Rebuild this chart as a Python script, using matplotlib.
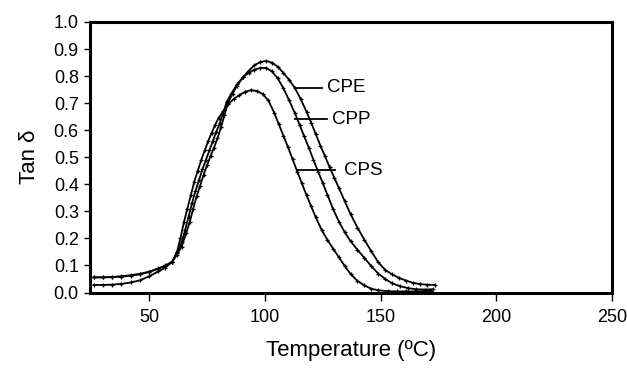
import matplotlib
matplotlib.use("Agg")
import matplotlib.pyplot as plt

plt.rcParams['font.family'] = ['Liberation Sans', 'DejaVu Sans']

# Data (Temperature in degC, tan delta).

t_cps = [26, 30, 34, 38, 42, 46, 50, 54, 57, 60, 62, 63.5, 65, 66.5, 68, 69.5,
         71, 72.5, 74, 75.5, 77, 78.5, 80, 82, 84, 86.5, 89, 91.5, 94, 96.5,
         99, 101.5, 104, 106, 108, 110, 112, 114, 116, 118, 120, 122, 124.5,
         127, 129.5, 132, 134.5, 137, 140, 143, 146, 149, 153, 157, 161, 165,
         169, 172]
tan_cps = [0.056, 0.056, 0.057, 0.059, 0.062, 0.067, 0.076, 0.088, 0.099,
           0.114, 0.150, 0.200, 0.260, 0.310, 0.360, 0.410, 0.450, 0.490,
           0.525, 0.560, 0.590, 0.620, 0.645, 0.670, 0.695, 0.715, 0.730,
           0.742, 0.748, 0.745, 0.734, 0.710, 0.665, 0.622, 0.580, 0.537,
           0.492, 0.447, 0.403, 0.360, 0.318, 0.278, 0.232, 0.195, 0.162,
           0.130, 0.098, 0.069, 0.043, 0.026, 0.014, 0.008, 0.005, 0.004,
           0.004, 0.004, 0.005, 0.006]

t_cpp = [26, 30, 34, 38, 42, 46, 50, 54, 57, 60, 62, 64, 65.5, 67, 68.5, 70,
         71.5, 73, 74.5, 76, 77.5, 79, 80.5, 82, 83.5, 85.5, 88, 90.5, 93,
         95.5, 98, 100.5, 103, 105.5, 108, 110.5, 113, 115, 117, 119, 121,
         123, 125, 127, 129.5, 132, 134.5, 137, 140, 143, 146, 149, 152, 155,
         158.5, 162, 165.5, 169, 172.5]
tan_cpp = [0.028, 0.028, 0.029, 0.032, 0.037, 0.045, 0.060, 0.078, 0.092,
           0.114, 0.145, 0.185, 0.230, 0.280, 0.330, 0.375, 0.415, 0.455,
           0.490, 0.525, 0.560, 0.595, 0.625, 0.665, 0.705, 0.735, 0.770,
           0.795, 0.812, 0.824, 0.830, 0.830, 0.818, 0.792, 0.755, 0.710,
           0.662, 0.620, 0.577, 0.535, 0.490, 0.447, 0.405, 0.362, 0.308,
           0.262, 0.223, 0.190, 0.158, 0.128, 0.097, 0.070, 0.050, 0.034,
           0.023, 0.016, 0.012, 0.011, 0.012]

t_cpe = [26, 30, 34, 38, 42, 46, 50, 54, 57, 60, 62, 64, 66, 67.5, 69, 70.5,
         72, 73.5, 75, 76.5, 78, 79.5, 81, 82.5, 84, 86, 88, 90.5, 93, 95.5,
         98, 100.5, 103, 105.5, 108, 110.5, 113, 115.5, 118, 120, 122, 124,
         126, 128, 130, 132, 134.5, 137, 140, 143, 146, 149, 152, 155, 158,
         161, 164, 167, 170, 173.5]
tan_cpe = [0.056, 0.056, 0.057, 0.060, 0.064, 0.069, 0.077, 0.089, 0.100,
           0.114, 0.140, 0.170, 0.220, 0.260, 0.310, 0.355, 0.395, 0.435,
           0.470, 0.505, 0.535, 0.570, 0.610, 0.655, 0.700, 0.735, 0.765,
           0.795, 0.820, 0.840, 0.852, 0.856, 0.850, 0.835, 0.812, 0.786,
           0.755, 0.715, 0.668, 0.628, 0.585, 0.543, 0.503, 0.463, 0.424,
           0.386, 0.338, 0.290, 0.240, 0.195, 0.152, 0.112, 0.083, 0.067,
           0.054, 0.044, 0.036, 0.031, 0.029, 0.028]

# Label text, leader line start/end (x) and y level.
labels = ["CPE", "CPP", "CPS"]
label_line_x0 = [113.8, 113.0, 113.8]
label_line_x1 = [124.6, 126.7, 130.3]
label_text_x = [127.0, 129.2, 134.0]
label_y = [0.757, 0.641, 0.452]

x_ticks = [50, 100, 150, 200, 250]
y_ticks = [0.0, 0.1, 0.2, 0.3, 0.4, 0.5, 0.6, 0.7, 0.8, 0.9, 1.0]

fig = plt.figure(figsize=(6.27, 3.72), dpi=100)
ax = fig.add_axes([0.1435, 0.2137, 0.8325, 0.7272])

for t, v in [(t_cps, tan_cps), (t_cpp, tan_cpp), (t_cpe, tan_cpe)]:
    ax.plot(t, v, color='k', lw=1.3, marker='+', ms=3.5, mew=0.9)

for lab, x0, x1, xt, y in zip(labels, label_line_x0, label_line_x1,
                              label_text_x, label_y):
    ax.plot([x0, x1], [y, y], color='k', lw=1.3)
    ax.text(xt, y, lab, fontsize=13.5, va='center', ha='left')

ax.set_xlim(24.4, 250)
ax.set_ylim(0.0, 1.0)
ax.set_xticks(x_ticks)
ax.set_yticks(y_ticks)
ax.set_yticklabels(["{0:.1f}".format(v) for v in y_ticks])

for s in ax.spines.values():
    s.set_linewidth(2.2)

ax.tick_params(axis='both', labelsize=13, width=1.0, direction='out')
ax.tick_params(axis='x', length=6, pad=6)
ax.tick_params(axis='y', length=4, pad=4)

ax.set_xlabel("Temperature (ºC)", fontsize=16, labelpad=10)
ax.set_ylabel("Tan δ", fontsize=16, labelpad=10)

fig.savefig("out.png", dpi=100)
plt.close(fig)
